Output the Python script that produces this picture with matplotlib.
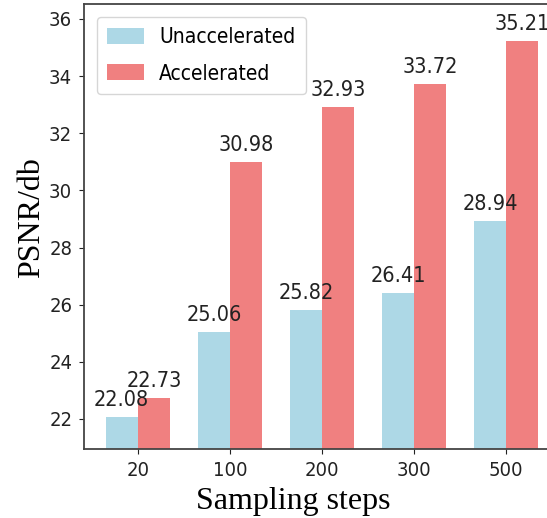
import matplotlib
matplotlib.use("Agg")
import matplotlib.pyplot as plt
from matplotlib import font_manager
import numpy as np

steps = ["20", "100", "200", "300", "500"]
unaccelerated = [22.08, 25.06, 25.82, 26.41, 28.94]
accelerated = [22.73, 30.98, 32.93, 33.72, 35.21]
yticks = [22, 24, 26, 28, 30, 32, 34, 36]

names = sorted({f.name for f in font_manager.fontManager.ttflist if "DejaVu" in f.name})
cond = "DejaVu Sans Condensed" if any("Condensed" in n for n in names) else "DejaVu Sans"

fig = plt.figure(figsize=(5.47, 5.18), dpi=100)
ax = fig.add_axes([84/547, 69/518, 476/547, 445/518])

w = 0.35
x = np.arange(len(steps))
b1 = ax.bar(x - w/2, unaccelerated, w, color="lightblue", label="Unaccelerated")
b2 = ax.bar(x + w/2, accelerated, w, color="lightcoral", label="Accelerated")

for bars in (b1, b2):
    for r in bars:
        h = r.get_height()
        ax.annotate(f"{h:.2f}", (r.get_x() + r.get_width()/2, h),
                    xytext=(0, 5), textcoords="offset points",
                    ha="center", va="bottom", fontsize=15.5, color="#222222",
                    family=cond, stretch="condensed")

ax.set_xticks(x)
ax.set_xticklabels(steps)
ax.set_yticks(yticks)
ax.set_ylim(20.95, 36.52)
ax.tick_params(labelsize=14.5, colors="#222222", pad=5)
for lab in ax.get_xticklabels() + ax.get_yticklabels():
    lab.set_family(cond)
    lab.set_stretch("condensed")
for s in ax.spines.values():
    s.set_color("#444444")
    s.set_linewidth(1.3)

ax.set_xlabel("Sampling steps", family="Liberation Serif", fontsize=23)
ax.xaxis.set_label_coords(0.439, -0.086, transform=ax.transAxes)
ax.xaxis.label.set_va("top")
ax.set_ylabel("PSNR/db", family="Liberation Serif", fontsize=23)
ax.yaxis.set_label_coords(-0.08, 0.519, transform=ax.transAxes)
ax.yaxis.label.set_va("bottom")

ax.legend(loc="upper left", prop={"family": cond, "stretch": "condensed", "size": 15},
          handlelength=1.8, handleheight=0.8, borderaxespad=0.6,
          borderpad=0.5, labelspacing=0.8, handletextpad=0.7)

fig.savefig("out.png", dpi=100)
